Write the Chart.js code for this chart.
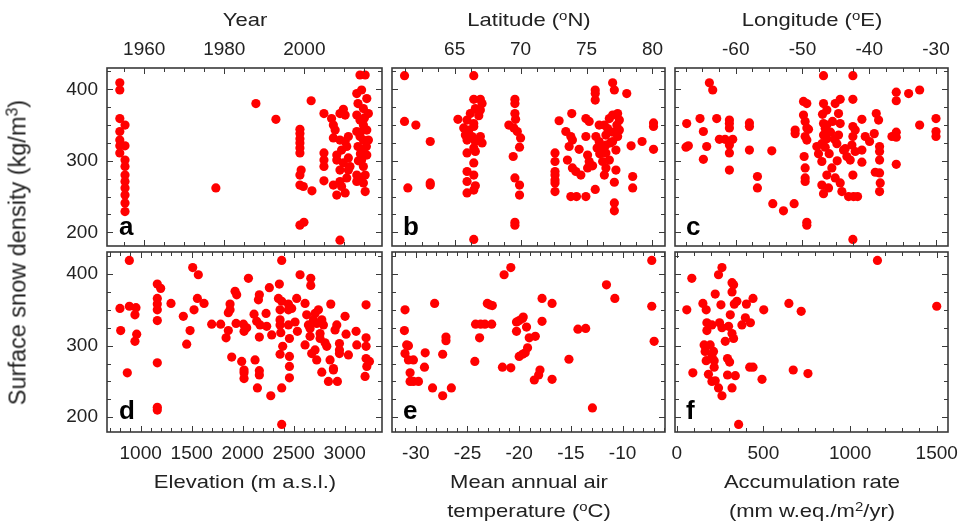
<!DOCTYPE html>
<html>
<head>
<meta charset="utf-8">
<script src="https://cdn.jsdelivr.net/npm/chart.js@4.4.1/dist/chart.umd.min.js"></script>
<style>
body { margin: 0; background: #fff; }
#wrap { position: relative; width: 960px; height: 527px; overflow: hidden; font-family: "Liberation Sans", Arial, sans-serif; color: #222; }
#wrap canvas { position: absolute; left: 0; top: 0; }
.t { position: absolute; font-size: 18.5px; line-height: 29px; text-align: center; white-space: nowrap; transform: scaleX(1.19); }
.t sup { font-size: 0.68em; position: relative; top: -0.5em; vertical-align: baseline; line-height: 0; }
.lbl { position: absolute; font-weight: bold; font-size: 26px; line-height: 26px; color: #000; }
.ytitle { position: absolute; left: -182px; top: 238px; width: 400px; font-size: 23.5px; line-height: 29px; text-align: center; white-space: nowrap; transform: rotate(-90deg); }
.ytitle sup { font-size: 0.68em; position: relative; top: -0.5em; vertical-align: baseline; line-height: 0; }
</style>
</head>
<body>
<div id="wrap">
  <canvas id="cA" width="960" height="527"></canvas>
  <canvas id="cB" width="960" height="527"></canvas>
  <canvas id="cC" width="960" height="527"></canvas>
  <canvas id="cD" width="960" height="527"></canvas>
  <canvas id="cE" width="960" height="527"></canvas>
  <canvas id="cF" width="960" height="527"></canvas>

  <div class="t" style="left:145px;top:5px;width:200px;">Year</div>
  <div class="t" style="left:429px;top:5px;width:200px;">Latitude (<sup>o</sup>N)</div>
  <div class="t" style="left:712px;top:5px;width:200px;">Longitude (<sup>o</sup>E)</div>
  <div class="t" style="left:145px;top:467px;width:200px;">Elevation (m a.s.l.)</div>
  <div class="t" style="left:429px;top:467px;width:200px;">Mean annual air<br>temperature (<sup>o</sup>C)</div>
  <div class="t" style="left:712px;top:467px;width:200px;">Accumulation rate<br>(mm w.eq./m<sup>2</sup>/yr)</div>
  <div class="ytitle">Surface snow density (kg/m<sup>3</sup>)</div>

  <div class="lbl" style="left:119px;top:213px;">a</div>
  <div class="lbl" style="left:403px;top:213px;">b</div>
  <div class="lbl" style="left:686px;top:213px;">c</div>
  <div class="lbl" style="left:119px;top:397px;">d</div>
  <div class="lbl" style="left:403px;top:397px;">e</div>
  <div class="lbl" style="left:686px;top:397px;">f</div>
</div>

<script>
// Surface snow density against site parameters (six panels)

// tick labels
const densityTicks = [200, 300, 400];
const yearTicks = [1960, 1980, 2000];
const latitudeTicks = [65, 70, 75, 80];
const longitudeTicks = [-60, -50, -40, -30];
const elevationTicks = [1000, 1500, 2000, 2500, 3000];
const temperatureTicks = [-30, -25, -20, -15, -10];
const accumulationTicks = [0, 500, 1000, 1500];

// a: year vs density
const yearDensity = [
    [1953.9, 409], [1953.9, 399], [1953.9, 359], [1955.2, 350], [1953.9, 341], [1953.9, 329],
    [1955.2, 321], [1953.9, 321], [1953.9, 311], [1955.2, 301], [1955.2, 292], [1955.2, 280],
    [1955.2, 271], [1955.2, 262], [1955.2, 252], [1955.2, 241], [1955.2, 229],
    [1977.9, 262], [1987.9, 380], [1992.9, 358], [2001.7, 384], [2001.9, 258], [2004.9, 366],
    [1998.9, 344], [1998.9, 338], [1998.9, 331], [1998.9, 325], [1998.9, 318], [1998.9, 311],
    [1999.2, 287], [1998.9, 280], [1998.9, 266], [1999.75, 264], [1998.9, 210], [1999.9, 214],
    [2004.9, 311], [2004.9, 301], [2004.9, 292], [2004.9, 272],
    [2006.8, 359], [2007.25, 350], [2007.7, 343], [2008.9, 366], [2009.75, 372], [2010.2, 364],
    [2007.25, 332], [2008.9, 329], [2010.2, 327], [2011, 334], [2008.1, 308], [2009.3, 315],
    [2010.6, 320], [2011, 304], [2008.1, 301], [2009.75, 297], [2011, 287], [2008.9, 287],
    [2011.4, 292], [2007.25, 266], [2008.9, 271], [2010.6, 276], [2008.1, 252], [2010.2, 255],
    [2008.9, 189], [2009.3, 264],
    [2013.9, 420], [2015.2, 420], [2013.1, 394], [2014.3, 399], [2015.6, 387], [2013.4, 380],
    [2014.75, 373], [2016, 366], [2013.1, 364], [2013.9, 357], [2014.75, 350], [2015.6, 343],
    [2013.1, 341], [2013.9, 334], [2014.75, 329], [2016, 329], [2013.4, 320], [2014.75, 315],
    [2015.6, 308], [2014.3, 301], [2014.75, 292], [2013.1, 280], [2013.9, 276], [2015.2, 280],
    [2014.75, 269], [2013.1, 271], [2015.2, 257], [2014, 340], [2014, 310], [2015, 360],
    [2013.5, 300], [2015.5, 320]
];

// b: latitude vs density
const latitudeDensity = [
    [61.2, 419], [66.45, 419], [61.2, 355], [62.06, 350], [63.15, 327], [61.45, 262],
    [63.15, 269], [63.15, 266], [65.25, 358],
    [66.45, 386], [66.95, 386], [67.08, 380], [66.57, 373], [66.95, 371], [66.19, 366],
    [66.83, 363], [65.94, 357], [66.45, 352], [65.69, 346], [66.07, 343], [66.45, 348],
    [65.81, 336], [66.32, 334], [66.95, 334], [65.94, 329], [66.57, 327], [67.08, 325],
    [66.45, 318], [66.57, 313], [65.94, 311], [66.45, 297], [65.94, 285], [66.45, 280],
    [65.94, 271], [66.57, 265], [66.45, 259], [65.94, 255], [66.45, 190],
    [69.57, 386], [69.57, 380], [69.57, 366], [69.62, 358], [69.11, 350], [69.49, 346],
    [69.75, 341], [70.0, 332], [69.92, 319], [69.44, 306], [69.57, 276], [69.92, 266],
    [69.92, 252], [69.57, 214], [69.57, 210],
    [72.61, 311], [72.61, 299], [72.61, 285], [72.61, 280], [72.61, 273], [72.61, 269], [72.61, 257],
    [72.92, 356], [73.43, 341], [73.88, 366], [73.81, 334], [73.93, 329], [73.68, 320],
    [73.55, 301], [73.93, 290], [74.19, 285], [74.57, 280], [73.81, 250], [74.24, 250],
    [74.95, 250], [74.44, 316], [75.08, 308], [75.2, 299], [75.08, 290], [74.95, 334],
    [74.95, 359], [75.2, 355], [75.66, 399], [75.66, 394], [75.66, 385], [75.66, 260],
    [75.96, 350], [75.71, 334], [76.35, 350], [76.47, 336], [76.73, 359], [76.98, 364],
    [77.36, 366], [77.49, 357], [77.49, 343], [75.96, 327], [76.47, 322], [76.98, 327],
    [77.36, 334], [77.23, 315], [76.47, 311], [76.73, 301], [76.22, 299], [75.46, 293],
    [76.47, 290], [77.23, 287], [76.35, 280], [77.11, 270], [77.11, 241], [77.11, 230],
    [76.98, 409], [77.11, 399], [78.05, 394], [78.38, 321], [78.5, 278], [78.5, 262],
    [79.21, 327], [80.08, 353], [80.08, 348], [80.08, 316],
    [76.6, 345], [77.0, 340], [76.2, 320], [76.8, 325], [77.3, 350], [76.0, 310], [75.8, 318]
];

// c: longitude vs density
const longitudeDensity = [
    [-46.85, 419], [-42.45, 419], [-63.95, 409], [-63.45, 399], [-42.45, 386], [-35.95, 396],
    [-35.95, 384], [-34.1, 394], [-32.45, 399],
    [-67.35, 352], [-67.1, 321], [-67.45, 319], [-65.35, 359], [-64.85, 341], [-64.35, 320],
    [-64.85, 302], [-62.85, 359], [-62.45, 330], [-61.6, 330], [-60.95, 357], [-60.95, 352],
    [-60.95, 346], [-60.45, 330], [-60.95, 322], [-60.95, 311], [-60.95, 287],
    [-57.95, 353], [-57.95, 348], [-57.95, 315], [-56.75, 278], [-56.75, 262], [-54.6, 314],
    [-54.45, 240], [-52.85, 230], [-51.25, 240], [-51.1, 343], [-51.1, 338],
    [-49.85, 383], [-49.35, 380], [-49.85, 364], [-49.6, 355], [-49.35, 346], [-49.1, 344],
    [-49.6, 334], [-49.35, 329], [-49.75, 306], [-49.6, 290], [-49.6, 276], [-49.6, 271],
    [-49.35, 214], [-49.35, 210],
    [-46.85, 380], [-46.35, 371], [-46.85, 352], [-46.35, 350], [-46.85, 336], [-46.35, 331],
    [-47.1, 324], [-46.6, 319], [-47.85, 320], [-47.6, 310], [-47.1, 299], [-46.35, 280],
    [-47.1, 266], [-46.85, 254], [-46.1, 262], [-45.6, 290], [-45.1, 380], [-44.35, 386],
    [-44.6, 366], [-44.35, 352], [-44.6, 336], [-44.85, 324], [-43.85, 315], [-45.1, 276],
    [-44.35, 269], [-44.1, 257], [-43.6, 317], [-43.35, 306], [-42.85, 301], [-42.6, 322],
    [-42.45, 348], [-42.1, 343], [-42.45, 334], [-42.1, 313], [-42.45, 280], [-43.1, 250],
    [-42.35, 250], [-41.75, 250], [-41.1, 358], [-41.1, 315], [-41.1, 298], [-40.6, 334],
    [-39.95, 327], [-39.25, 338], [-38.95, 366], [-38.6, 357], [-38.45, 320], [-38.45, 313],
    [-38.45, 301], [-38.45, 283], [-38.35, 269], [-38.45, 257], [-39.1, 284], [-36.6, 334],
    [-35.95, 340], [-35.95, 295], [-35.95, 333], [-32.45, 350], [-30.0, 359], [-30.0, 341],
    [-30.0, 334], [-42.45, 190],
    [-46.6, 345], [-45.8, 340], [-45.2, 330], [-46.0, 310], [-44.8, 300], [-45.5, 355], [-47.0, 365]
];

// d: elevation vs density
const elevationDensity = [
    [889, 419], [797, 352], [804, 321], [889, 355], [954, 353], [944, 343], [961, 316], [944, 306], [869, 262],
    [1163, 386], [1196, 380], [1163, 366], [1163, 358], [1163, 350], [1163, 335], [1163, 276],
    [1163, 214], [1163, 210],
    [1297, 359], [1418, 341], [1484, 321], [1451, 302], [1510, 409], [1565, 399], [1556, 366],
    [1621, 359], [1523, 350],
    [1696, 330], [1784, 330], [1837, 311], [1859, 321], [1876, 358], [1876, 350], [1859, 346],
    [1925, 376], [1941, 371], [1935, 331], [1892, 284], [2007, 330], [2039, 325], [2013, 320],
    [1990, 278], [2013, 266], [2013, 262], [2013, 254], [2056, 394], [2111, 344], [2154, 364],
    [2163, 371], [2137, 334], [2163, 312], [2170, 329], [2229, 345], [2235, 327], [2121, 280],
    [2163, 265], [2163, 259], [2144, 241], [2261, 381], [2284, 315], [2275, 230],
    [2359, 386], [2350, 366], [2382, 362], [2366, 350], [2366, 336], [2366, 329], [2373, 318],
    [2392, 299], [2366, 288], [2382, 241], [2382, 419], [2382, 190],
    [2448, 358], [2448, 350], [2448, 329], [2480, 352], [2458, 310], [2458, 285], [2458, 271],
    [2458, 255], [2529, 366], [2536, 320], [2513, 333], [2562, 399], [2611, 359], [2627, 343],
    [2644, 329], [2611, 301], [2667, 394], [2667, 384], [2660, 324], [2660, 313], [2693, 336],
    [2709, 345], [2742, 350], [2725, 331], [2676, 289], [2709, 294], [2725, 280], [2758, 317],
    [2758, 310], [2775, 336], [2791, 329], [2807, 304], [2824, 299], [2775, 263], [2863, 358],
    [2856, 280], [2840, 250], [2889, 268], [2889, 266], [2922, 329], [2905, 322], [2928, 250],
    [2948, 303], [2948, 289], [2948, 294], [3003, 341], [3013, 316], [3036, 287], [3111, 320],
    [3118, 301], [3209, 357], [3209, 311], [3209, 299], [3209, 282], [3242, 278], [3216, 271],
    [3199, 257]
];

// e: mean annual air temperature vs density
const temperatureDensity = [
    [-31.04, 350], [-31.1, 321], [-30.88, 301], [-30.71, 300], [-31.04, 289], [-30.71, 280],
    [-30.23, 280], [-30.55, 262], [-30.55, 250], [-30.23, 250], [-29.74, 250], [-29.16, 270],
    [-29.09, 290], [-28.38, 241], [-28.18, 359], [-27.4, 288], [-27.4, 230], [-27.08, 312],
    [-27.08, 307], [-26.56, 241], [-24.29, 278], [-24.22, 330], [-23.73, 330], [-23.83, 311],
    [-23.31, 330], [-23.08, 359], [-22.86, 357], [-22.66, 330], [-22.6, 356], [-21.62, 270],
    [-21.46, 399], [-20.81, 409], [-20.81, 269], [-20.26, 320], [-20.26, 333], [-20.0, 335],
    [-20.0, 285], [-19.68, 338], [-19.61, 340], [-19.68, 288], [-19.42, 290], [-19.29, 326],
    [-19.19, 297], [-19.03, 311], [-18.44, 313], [-18.54, 252], [-18.12, 259], [-17.99, 266],
    [-17.79, 366], [-17.79, 334], [-16.82, 359], [-16.82, 253], [-15.19, 281], [-14.32, 323],
    [-13.57, 324], [-12.92, 213], [-11.56, 385], [-10.75, 366], [-7.18, 419], [-7.18, 355],
    [-6.95, 306]
];

// f: accumulation rate vs density
const accumulationDensity = [
    [87, 394], [58, 350], [93, 262], [151, 359], [170, 350], [222, 372], [241, 399], [261, 409],
    [255, 357], [174, 332], [174, 321], [203, 329], [247, 332], [261, 325], [280, 306], [309, 343],
    [299, 327], [319, 388], [328, 385], [319, 375], [332, 358], [347, 362], [402, 358], [440, 366],
    [502, 350], [376, 329], [396, 339], [425, 332], [319, 317], [328, 310], [158, 301], [193, 301],
    [164, 292], [212, 292], [203, 285], [170, 279], [216, 279], [216, 270], [183, 260], [203, 250],
    [222, 251], [241, 241], [261, 230], [293, 282], [305, 277], [293, 259], [338, 258], [319, 241],
    [357, 190], [421, 270], [440, 270], [492, 253], [647, 359], [672, 266], [718, 348], [757, 261],
    [1158, 419], [1500, 355]
];

const fontFamily = "'Liberation Sans', Arial, sans-serif";
const frameColor = '#3a3a3a';

// inward ticks on all four sides plus the box frame
const framePlugin = {
    id: 'frame',
    afterDraw(chart, args, opts) {
        const { ctx, chartArea: a } = chart;
        const x = chart.scales.x, y = chart.scales.y;
        ctx.save();
        ctx.strokeStyle = frameColor;
        ctx.lineWidth = 1;
        ctx.beginPath();
        stepValues(x.min, x.max, opts.xMinor).forEach(v => {
            const px = Math.round(x.getPixelForValue(v)) + 0.5;
            const len = isMultiple(v, opts.xMajor) ? 6 : 4;
            ctx.moveTo(px, a.top); ctx.lineTo(px, a.top + len);
            ctx.moveTo(px, a.bottom); ctx.lineTo(px, a.bottom - len);
        });
        stepValues(y.min, y.max, opts.yMinor).forEach(v => {
            const py = Math.round(y.getPixelForValue(v)) + 0.5;
            const len = isMultiple(v, opts.yMajor) ? 6 : 4;
            ctx.moveTo(a.left, py); ctx.lineTo(a.left + len, py);
            ctx.moveTo(a.right, py); ctx.lineTo(a.right - len, py);
        });
        ctx.stroke();
        ctx.lineWidth = 1.6;
        ctx.strokeRect(a.left, a.top, a.right - a.left, a.bottom - a.top);
        ctx.restore();
    }
};

function stepValues(min, max, step) {
    const out = [];
    for (let v = Math.ceil(min / step - 1e-9) * step; v <= max + 1e-9; v += step) {
        out.push(Math.round(v * 1000) / 1000);
    }
    return out;
}

function isMultiple(v, step) {
    const r = Math.abs(v / step - Math.round(v / step));
    return r < 1e-6;
}

// plain numbers, no thousands separator
function plainLabel(value) {
    return String(value);
}

function makePanel(id, points, p) {
    const ctx = document.getElementById(id).getContext('2d');
    const isTop = p.xPos === 'top';
    // the labelled axes take the whole margin, so their labels are not clipped
    const xAxisSpace = isTop ? p.box[2] : 527 - p.box[3];
    const yAxisSpace = p.yLabels ? p.box[0] : 0;
    return new Chart(ctx, {
        type: 'scatter',
        data: {
            datasets: [{
                data: points.map(d => ({ x: d[0], y: d[1] })),
                backgroundColor: '#ff0000',
                borderWidth: 0,
                pointRadius: 4.6,
                pointHoverRadius: 4.6
            }]
        },
        options: {
            responsive: false,
            animation: false,
            devicePixelRatio: 1,
            events: [],
            layout: {
                padding: {
                    left: p.box[0] - yAxisSpace,
                    right: 960 - p.box[1],
                    top: isTop ? 0 : p.box[2],
                    bottom: isTop ? 527 - p.box[3] : 0
                }
            },
            plugins: {
                legend: { display: false },
                tooltip: { enabled: false },
                frame: { xMinor: p.xMinor, xMajor: p.xMajor, yMinor: 25, yMajor: 100 }
            },
            scales: {
                x: {
                    type: 'linear',
                    position: p.xPos,
                    min: p.xMin,
                    max: p.xMax,
                    grid: { display: false, drawTicks: false },
                    border: { display: false },
                    ticks: {
                        color: '#222',
                        font: { size: 19, family: fontFamily },
                        padding: isTop ? 7 : 10,
                        maxRotation: 0,
                        autoSkip: false,
                        callback: plainLabel
                    },
                    afterBuildTicks: s => { s.ticks = p.xTicks.map(v => ({ value: v })); },
                    afterFit: s => {
                        s.height = xAxisSpace;
                        s.paddingLeft = 0;
                        s.paddingRight = 0;
                    }
                },
                y: {
                    type: 'linear',
                    position: 'left',
                    min: p.yMin,
                    max: p.yMax,
                    grid: { display: false, drawTicks: false },
                    border: { display: false },
                    ticks: {
                        display: p.yLabels,
                        color: '#222',
                        font: { size: 19, family: fontFamily },
                        padding: 9,
                        callback: plainLabel
                    },
                    afterBuildTicks: s => { s.ticks = densityTicks.map(v => ({ value: v })); },
                    afterFit: s => {
                        s.width = yAxisSpace;
                        s.paddingTop = 0;
                        s.paddingBottom = 0;
                    }
                }
            }
        },
        plugins: [framePlugin]
    });
}

document.addEventListener('DOMContentLoaded', function() {
    const top = { yMin: 180.8, yMax: 429.8, xPos: 'top' };
    const bottom = { yMin: 179.4, yMax: 430.8, xPos: 'bottom' };

    makePanel('cA', yearDensity, Object.assign({}, top, {
        box: [107, 382, 68, 246], xMin: 1950.7, xMax: 2019.4, xMinor: 5, xMajor: 20,
        xTicks: yearTicks, yLabels: true
    }));
    makePanel('cB', latitudeDensity, Object.assign({}, top, {
        box: [392, 665, 68, 246], xMin: 60.25, xMax: 80.95, xMinor: 1.25, xMajor: 5,
        xTicks: latitudeTicks, yLabels: false
    }));
    makePanel('cC', longitudeDensity, Object.assign({}, top, {
        box: [675, 948, 68, 246], xMin: -69.1, xMax: -28.2, xMinor: 2.5, xMajor: 10,
        xTicks: longitudeTicks, yLabels: false
    }));
    makePanel('cD', elevationDensity, Object.assign({}, bottom, {
        box: [107, 382, 252, 432], xMin: 670, xMax: 3365, xMinor: 100, xMajor: 500,
        xTicks: elevationTicks, yLabels: true
    }));
    makePanel('cE', temperatureDensity, Object.assign({}, bottom, {
        box: [392, 665, 252, 432], xMin: -32.3, xMax: -5.9, xMinor: 1, xMajor: 5,
        xTicks: temperatureTicks, yLabels: false
    }));
    makePanel('cF', accumulationDensity, Object.assign({}, bottom, {
        box: [675, 948, 252, 432], xMin: -10, xMax: 1565, xMinor: 100, xMajor: 500,
        xTicks: accumulationTicks, yLabels: false
    }));
});
</script>
</body>
</html>
